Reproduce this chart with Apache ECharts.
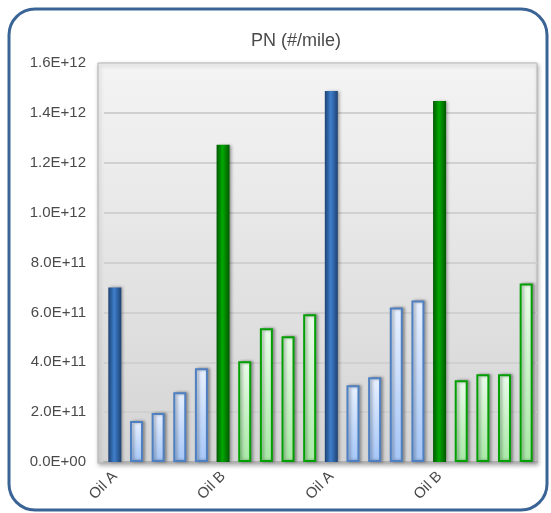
<!DOCTYPE html>
<html>
<head>
<meta charset="utf-8">
<script src="https://cdn.jsdelivr.net/npm/echarts@6/dist/echarts.min.js"></script>
<style>
html,body{margin:0;padding:0;background:#fff;}
#c{width:551px;height:513px;}
</style>
</head>
<body>
<div id="c"></div>
<script>
const categories = ["Oil A","","","","","Oil B","","","","","Oil A","","","","","Oil B","","","",""];
const pnValues = [7.0e11,1.64e11,1.96e11,2.8e11,3.76e11,1.272e12,4.04e11,5.36e11,5.04e11,5.92e11,
                  1.488e12,3.08e11,3.4e11,6.2e11,6.48e11,1.448e12,3.28e11,3.52e11,3.52e11,7.16e11];
const yTicks = {min:0,max:1.6e12,interval:2e11};
const titleText = "PN (#/mile)";

const G = echarts.graphic;
function hGrad(edge, mid){
  return new G.LinearGradient(0,0,1,0,[{offset:0,color:edge},{offset:0.45,color:mid},{offset:1,color:edge}]);
}
function vGrad(top, bot){
  return new G.LinearGradient(0,0,0,1,[{offset:0,color:top},{offset:1,color:bot}]);
}
const styles = {
  darkBlue:{color:hGrad('#1e4273','#3f7fcc'),borderWidth:0},
  lightBlue:{color:vGrad('#e9f1ff','#a5c6f7'),borderColor:'#4f80c2',borderWidth:2},
  darkGreen:{color:hGrad('#005800','#00a800'),borderWidth:0},
  lightGreen:{color:vGrad('#ebfbea','#a8e8a6'),borderColor:'#03a003',borderWidth:2}
};
function styleFor(i){
  const k = i%10;
  if(k===0) return styles.darkBlue;
  if(k<5) return styles.lightBlue;
  if(k===5) return styles.darkGreen;
  return styles.lightGreen;
}
const barData = pnValues.map((v,i)=>({value:v,itemStyle:Object.assign({shadowBlur:3,shadowOffsetX:2,shadowOffsetY:0,shadowColor:'rgba(0,0,0,0.35)'},styleFor(i))}));

const chart = echarts.init(document.getElementById('c'));
const font = '"Liberation Sans Narrow","Liberation Sans",Arial,sans-serif';
chart.setOption({
  animation:false,
  backgroundColor:'#fff',
  graphic:[
    {type:'rect',z:-10,shape:{x:9,y:9,width:538,height:501,r:26},style:{fill:'#fff',stroke:'#3b6496',lineWidth:3}},
    {type:'rect',z:-9,shape:{x:98,y:63,width:439,height:400},
     style:{fill:new G.LinearGradient(0,0,0,1,[{offset:0,color:'#f4f4f4'},{offset:1,color:'#d4d4d4'}]),
            stroke:'#b4b4b4',lineWidth:1,shadowBlur:4,shadowOffsetY:2,shadowOffsetX:1,shadowColor:'rgba(0,0,0,0.3)'}}
  ],
  title:{text:titleText,left:291,textAlign:'center',top:27,textStyle:{fontFamily:font,fontSize:18,fontWeight:'normal',color:'#4a4a4a'}},
  grid:{left:104,top:63,width:433,height:399,containLabel:false},
  xAxis:{type:'category',data:categories,
    axisLine:{show:true,lineStyle:{color:'#b0b0b0',width:2}},
    axisTick:{show:false},
    axisLabel:{interval:0,rotate:45,margin:12,fontFamily:font,fontSize:15,color:'#4a4a4a'}},
  yAxis:{type:'value',min:yTicks.min,max:yTicks.max,interval:yTicks.interval,
    axisLine:{show:false},axisTick:{show:false},
    splitLine:{show:true,lineStyle:{color:'#d0d0d0',width:2}},
    axisLabel:{margin:18,fontFamily:font,fontSize:15,color:'#4a4a4a',
      formatter:function(v){
        if(v===0) return '0.0E+00';
        const e=Math.floor(Math.log10(v)+1e-9);
        const m=v/Math.pow(10,e);
        return m.toFixed(1)+'E+'+(e<10?'0'+e:e);
      }}},
  series:[{type:'bar',data:barData,barWidth:13,z:3}]
});
</script>
</body>
</html>
